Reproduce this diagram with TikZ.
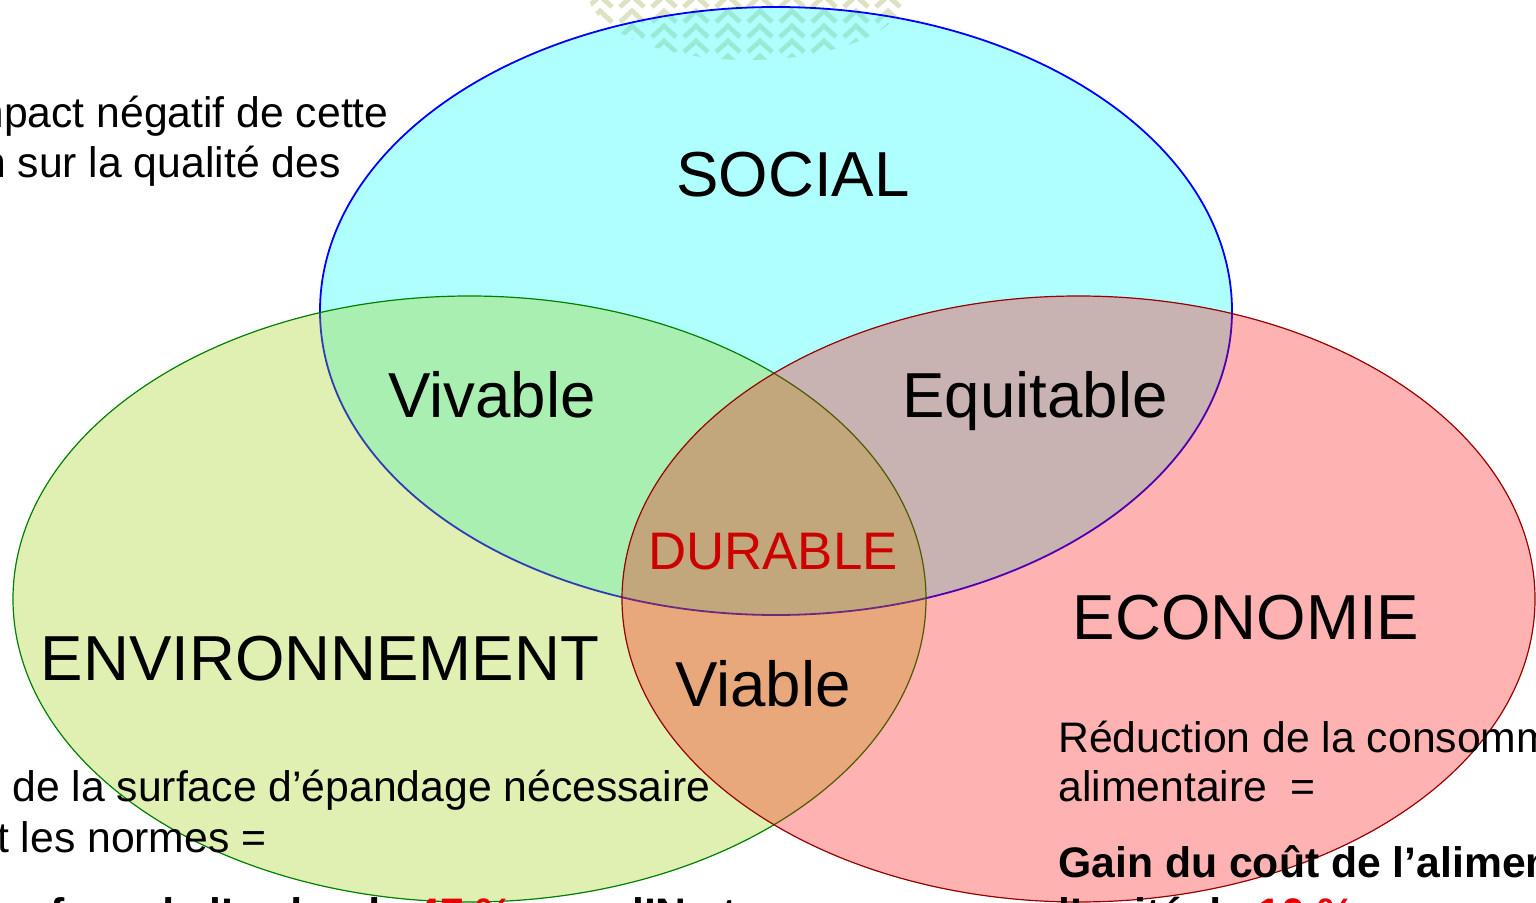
\documentclass[tikz,border=0pt]{standalone}
\usepackage{fontspec}
\setmainfont{Liberation Sans}
\begin{document}
\begin{tikzpicture}[x=0.5pt,y=-0.5pt,
  bigtxt/.style={font=\fontsize{31.8pt}{36pt}\selectfont, inner sep=0pt, anchor=base},
  smalltxt/.style={font=\fontsize{21.35pt}{25pt}\selectfont, inner sep=0pt},
  boldtxt/.style={smalltxt, font=\fontsize{21.35pt}{25pt}\selectfont\bfseries},
  leafmark/.style={draw=leafcol, line width=2.4pt, line cap=butt, line join=miter},
  circ/.style={fill opacity=0.3, draw opacity=1}]
\definecolor{socialfill}{RGB}{0,255,255}
\definecolor{envfill}{RGB}{153,204,0}
\definecolor{ecofill}{RGB}{255,0,0}
\definecolor{socialline}{RGB}{0,0,255}
\definecolor{envline}{RGB}{0,128,0}
\definecolor{ecoline}{RGB}{150,0,0}
\definecolor{leafcol}{RGB}{221,226,194}
\definecolor{durred}{RGB}{204,0,0}
\definecolor{pctred}{RGB}{230,0,0}

\useasboundingbox (0,0) rectangle (1536,903);
\clip (0,0) rectangle (1536,903);

% faint fir-tree motif at the top
\begin{scope}
  \clip (748,-8) ellipse [x radius=80pt, y radius=34pt];
  \foreach \lx in {600,632,...,888}
    \foreach \ly in {-4,11,...,56}
      \draw[leafmark] (\lx-12,\ly+11) -- (\lx,\ly) -- (\lx+12,\ly+11);
\end{scope}

% the three circles
\draw[circ, fill=socialfill, draw=socialline, line width=0.9pt, fill opacity=0.31]
  (776,311) ellipse [x radius=228pt, y radius=152pt];
\draw[circ, fill=envfill, draw=envline, line width=0.6pt]
  (469.5,599) ellipse [x radius=228.25pt, y radius=151.5pt];
\draw[circ, fill=ecofill, draw=ecoline, line width=0.6pt]
  (1078.5,599) ellipse [x radius=228.25pt, y radius=151.5pt];

% labels
\node[bigtxt] (social) at (793,197) {SOCIAL};
\node[bigtxt] (vivable) at (492,417) {Vivable};
\node[bigtxt] (equitable) at (1035,417) {Equitable};
\node[bigtxt, font=\fontsize{26.4pt}{30pt}\selectfont, text=durred] (durable) at (773,569) {DURABLE};
\node[bigtxt] (environ) at (320,680) {ENVIRONNEMENT};
\node[bigtxt] (viable) at (763,706) {Viable};
\node[bigtxt] (economie) at (1246,639) {ECONOMIE};

% side texts
\node[smalltxt, anchor=base east] (tl1) at (389,128) {l’impact négatif de cette};
\node[smalltxt, anchor=base east] (tl2) at (341,178) {pollution sur la qualité des};

\node[smalltxt, anchor=base west] (bl1) at (12,801) {de la surface d’épandage nécessaire};
\node[smalltxt, anchor=base west] (bl2) at (-27,852) {et les normes =};
\node[boldtxt, anchor=base west] (bl3) at (-16,928)
  {surface de l’ordre de \textcolor{pctred}{47 \%} pour l’N et};

\node[smalltxt, anchor=base west] (br1) at (1058,752) {Réduction de la consommation};
\node[smalltxt, anchor=base west] (br2) at (1058,801) {alimentaire\ \ =};
\node[boldtxt, anchor=base west] (br3) at (1058,877) {Gain du coût de l’alimentation};
\node[boldtxt, anchor=base west] (br4) at (1058,928) {l’unité de \textcolor{pctred}{10 \%}};
\end{tikzpicture}
\end{document}
